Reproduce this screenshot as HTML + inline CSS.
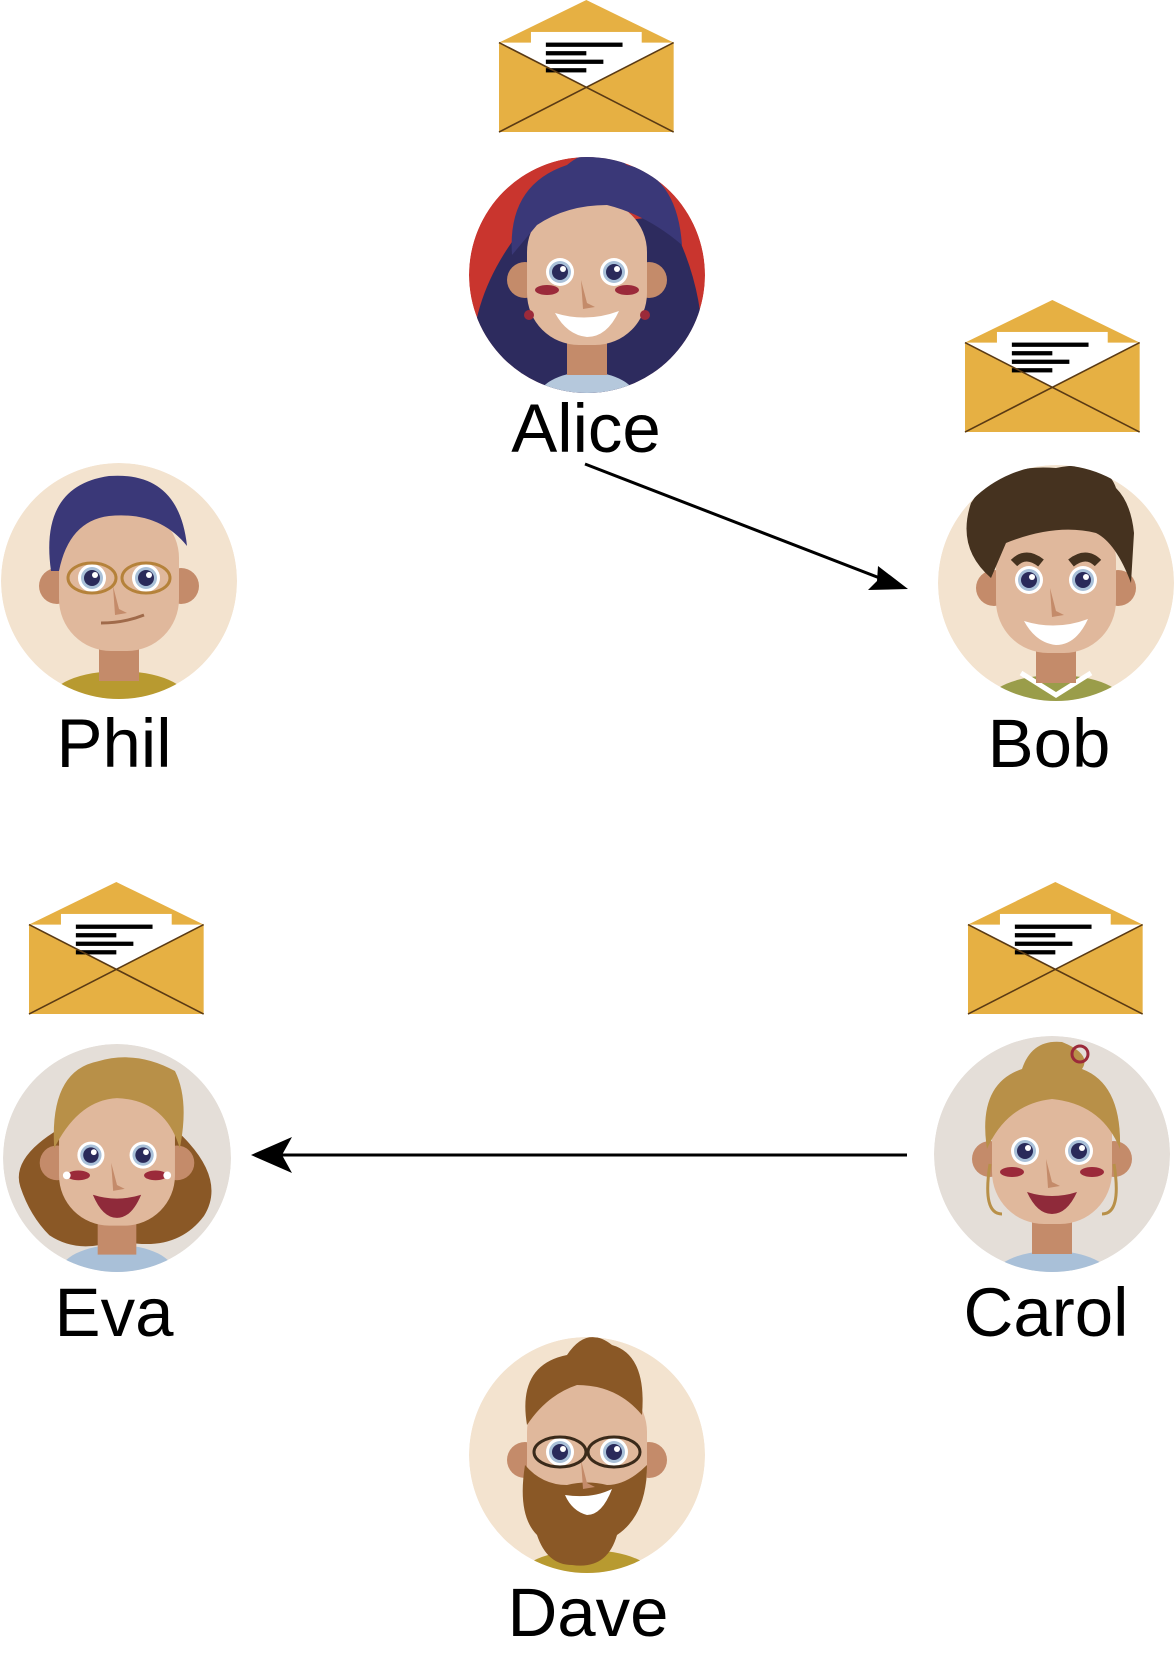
<!DOCTYPE html>
<html><head><meta charset="utf-8"><style>
html,body{margin:0;padding:0;background:#fff;}
svg{display:block}
text{font-family:"Liberation Sans",Arial,sans-serif;font-size:69px;fill:#000;text-anchor:middle}
</style></head><body>
<svg width="1176" height="1672" viewBox="0 0 1176 1672" xmlns="http://www.w3.org/2000/svg">
<defs>
<clipPath id="cc"><circle cx="0" cy="0" r="118"/></clipPath>
<g id="env">
  <polygon points="0,40 82,0 164,40" fill="#e6b043"/>
  <rect x="30" y="30" width="104" height="60" fill="#fff"/>
  <rect x="44" y="40" width="72" height="4" fill="#000"/>
  <rect x="44" y="48" width="38" height="4" fill="#000"/>
  <rect x="44" y="56" width="54" height="4" fill="#000"/>
  <rect x="44" y="64" width="38" height="4" fill="#000"/>
  <polygon points="0,40 82,82 164,40 164,124 0,124" fill="#e6b043"/>
  <polygon points="30,55 82,82 134,55 134,40 30,40" fill="#fff"/>
  <rect x="44" y="40" width="72" height="4" fill="#000"/>
  <rect x="44" y="48" width="38" height="4" fill="#000"/>
  <rect x="44" y="56" width="54" height="4" fill="#000"/>
  <rect x="44" y="64" width="38" height="4" fill="#000"/>
  <line x1="0" y1="40" x2="164" y2="124" stroke="#5a3a14" stroke-width="1.5"/>
  <line x1="164" y1="40" x2="0" y2="124" stroke="#5a3a14" stroke-width="1.5"/>
</g>
<g id="eyes">
  <circle cx="-27" cy="-3" r="14" fill="#fff"/><circle cx="27" cy="-3" r="14" fill="#fff"/>
  <circle cx="-27" cy="-3" r="11" fill="#a9c0d8"/><circle cx="27" cy="-3" r="11" fill="#a9c0d8"/>
  <circle cx="-27" cy="-3" r="8" fill="#2a2a5a"/><circle cx="27" cy="-3" r="8" fill="#2a2a5a"/>
  <circle cx="-24" cy="-6" r="3" fill="#fff"/><circle cx="30" cy="-6" r="3" fill="#fff"/>
  <path d="M-6,5 L0,28 L8,32 L-4,34 Z" fill="#c48b6a"/>
</g>
<g id="smile"><path d="M-32,38 Q0,48 32,36 Q20,62 0,62 Q-20,60 -32,38Z" fill="#fff"/></g>
<g id="head">
  <rect x="-20" y="40" width="40" height="60" fill="#c48b6a"/>
  <circle cx="-62" cy="5" r="18" fill="#c48b6a"/><circle cx="62" cy="5" r="18" fill="#c48b6a"/>
  <rect x="-60" y="-75" width="120" height="145" rx="52" fill="#e0b89c"/>
</g>
</defs>

<!-- envelopes -->
<use href="#env" transform="translate(499,0) scale(1.065)"/>
<use href="#env" transform="translate(965,300) scale(1.065)"/>
<use href="#env" transform="translate(29,882) scale(1.065)"/>
<use href="#env" transform="translate(968,882) scale(1.065)"/>

<!-- Alice -->
<g transform="translate(587,275)"><g clip-path="url(#cc)">
  <circle r="118" fill="#c9352e"/>
  <path d="M-70,-40 Q-130,40 -110,130 L110,130 Q130,30 80,-60 Z" fill="#2d2b5e"/>
  <ellipse cx="0" cy="125" rx="50" ry="28" fill="#b5c8dc"/>
  <use href="#head"/>
  <path d="M-75,-20 Q-80,-90 -20,-110 Q10,-135 40,-110 Q90,-100 95,-30 Q60,-60 20,-70 Q-20,-70 -50,-50 Z" fill="#3a3878"/>
  <use href="#eyes"/>
  <ellipse cx="-40" cy="15" rx="12" ry="5" fill="#9b2a3a"/><ellipse cx="40" cy="15" rx="12" ry="5" fill="#9b2a3a"/>
  <use href="#smile"/>
  <circle cx="-58" cy="40" r="5" fill="#9b2a3a"/><circle cx="58" cy="40" r="5" fill="#9b2a3a"/>
</g></g>
<text x="586" y="452">Alice</text>

<!-- Phil -->
<g transform="translate(119,581)"><g clip-path="url(#cc)">
  <circle r="118" fill="#f3e3cf"/>
  <ellipse cx="0" cy="120" rx="70" ry="30" fill="#b89a30"/>
  <use href="#head"/>
  <path d="M-68,-10 Q-80,-95 -10,-105 Q60,-110 68,-35 Q40,-70 -10,-65 Q-50,-60 -60,-10Z" fill="#3a3878"/>
  <use href="#eyes"/>
  <ellipse cx="-27" cy="-3" rx="24" ry="15" fill="none" stroke="#b5823a" stroke-width="3"/>
  <ellipse cx="27" cy="-3" rx="24" ry="15" fill="none" stroke="#b5823a" stroke-width="3"/>
  <path d="M-18,42 Q5,42 25,34" stroke="#a06a4a" stroke-width="3" fill="none"/>
</g></g>
<text x="114" y="767">Phil</text>

<!-- Bob -->
<g transform="translate(1056,583)"><g clip-path="url(#cc)">
  <circle r="118" fill="#f3e3cf"/>
  <ellipse cx="0" cy="122" rx="70" ry="30" fill="#9a9d4a"/>
  <path d="M-35,90 L0,112 L35,90" stroke="#fff" stroke-width="5" fill="none"/>
  <use href="#head"/>
  <path d="M-65,-5 Q-100,-35 -85,-80 Q-60,-120 0,-115 Q50,-125 60,-95 Q75,-80 78,-50 L75,0 Q60,-40 40,-50 Q0,-60 -50,-40Z" fill="#45321f"/>
  <path d="M-42,-20 Q-30,-32 -15,-20 M15,-20 Q30,-32 42,-20" stroke="#45321f" stroke-width="9" fill="none"/>
  <use href="#eyes"/>
  <use href="#smile"/>
</g></g>
<text x="1049" y="767">Bob</text>

<!-- Eva -->
<g transform="translate(117,1158) scale(0.966)"><g clip-path="url(#cc)">
  <circle r="118" fill="#e4ded8"/>
  <path d="M-60,-30 Q-110,0 -100,30 Q-90,60 -70,80 Q-40,100 0,85 Q60,100 90,60 Q115,20 60,-30Z" fill="#8a5826"/>
  <ellipse cx="0" cy="120" rx="60" ry="30" fill="#a9c0d8"/>
  <use href="#head"/>
  <path d="M-65,-10 Q-70,-90 -20,-100 Q20,-112 60,-90 Q75,-60 65,-10 Q50,-60 0,-62 Q-40,-60 -65,-10Z" fill="#b89048"/>
  <use href="#eyes"/>
  <ellipse cx="-40" cy="18" rx="12" ry="5" fill="#9b2a3a"/><ellipse cx="40" cy="18" rx="12" ry="5" fill="#9b2a3a"/>
  <path d="M-25,38 Q0,46 25,38 Q15,62 0,62 Q-15,62 -25,38Z" fill="#8f2a3a"/>
  <circle cx="-52" cy="18" r="4" fill="#fff"/><circle cx="52" cy="18" r="4" fill="#fff"/>
</g></g>
<text x="114" y="1336">Eva</text>

<!-- Carol -->
<g transform="translate(1052,1154)"><g clip-path="url(#cc)">
  <circle r="118" fill="#e4ded8"/>
  <ellipse cx="0" cy="125" rx="60" ry="28" fill="#a9c0d8"/>
  <use href="#head"/>
  <path d="M-65,-5 Q-75,-70 -30,-85 Q-20,-115 10,-112 Q40,-100 30,-85 Q70,-70 68,-5 Q50,-50 0,-55 Q-45,-50 -65,-5Z" fill="#b89048"/>
  <circle cx="28" cy="-100" r="8" fill="none" stroke="#9b2a3a" stroke-width="3"/>
  <use href="#eyes"/>
  <ellipse cx="-40" cy="18" rx="12" ry="5" fill="#9b2a3a"/><ellipse cx="40" cy="18" rx="12" ry="5" fill="#9b2a3a"/>
  <path d="M-25,38 Q0,46 25,38 Q15,60 0,60 Q-15,60 -25,38Z" fill="#8f2a3a"/>
  <path d="M-62,10 Q-70,60 -50,60 M62,10 Q70,60 50,60" stroke="#b89048" stroke-width="3" fill="none"/>
</g></g>
<text x="1046" y="1336">Carol</text>

<!-- Dave -->
<g transform="translate(587,1455)"><g clip-path="url(#cc)">
  <circle r="118" fill="#f3e3cf"/>
  <ellipse cx="0" cy="125" rx="70" ry="30" fill="#b89a30"/>
  <use href="#head"/>
  <path d="M-60,-30 Q-70,-90 -20,-100 Q0,-130 25,-110 Q60,-100 55,-40 Q30,-70 -10,-70 Q-40,-60 -60,-30Z" fill="#8a5826"/>
  <path d="M-62,10 Q-70,60 -50,80 Q-40,110 -15,110 Q20,115 30,80 Q60,60 60,10 Q40,30 20,30 Q0,25 -20,30 Q-45,30 -62,10Z" fill="#8a5826"/>
  <use href="#eyes"/>
  <ellipse cx="-27" cy="-3" rx="26" ry="15" fill="none" stroke="#3a2a1a" stroke-width="3"/>
  <ellipse cx="27" cy="-3" rx="26" ry="15" fill="none" stroke="#3a2a1a" stroke-width="3"/>
  <path d="M-22,40 Q5,44 25,34 Q15,60 0,60 Q-15,56 -22,40Z" fill="#fff"/>
</g></g>
<text x="588" y="1636">Dave</text>

<!-- arrows -->
<line x1="585" y1="464" x2="890" y2="582" stroke="#000" stroke-width="3"/>
<polygon points="908,589 868,590 877,581 878,566" fill="#000"/>
<line x1="907" y1="1155" x2="270" y2="1155" stroke="#000" stroke-width="3"/>
<polygon points="251,1155 292,1137 282,1155 292,1173" fill="#000"/>
</svg>
</body></html>
